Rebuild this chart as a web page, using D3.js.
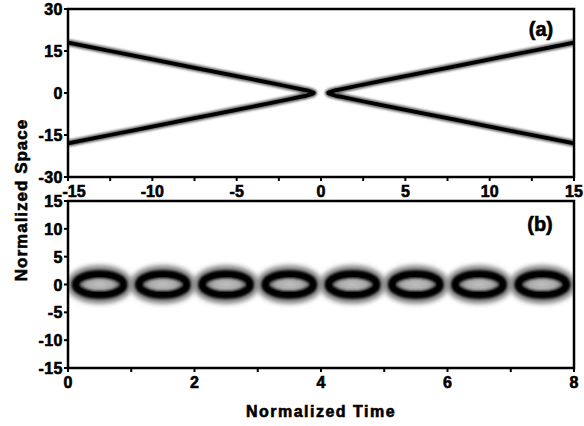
<!DOCTYPE html>
<html>
<head>
<meta charset="utf-8">
<script src="https://cdn.jsdelivr.net/npm/d3@7"></script>
<style>
  html, body { margin: 0; padding: 0; background: #fff; }
  svg { display: block; }
  text { font-family: "Liberation Sans", Arial, sans-serif; font-weight: bold; fill: #000;
         stroke: #000; stroke-width: 0.6px; }
</style>
</head>
<body>
<svg id="chart" width="584" height="426"></svg>
<script>
// Panel (a): beam trajectories, upper-right branch (time, space); the other
// three branches are its mirror images about the axes.
const branchTime  = [0.42, 0.5, 0.65, 0.9, 1.3, 2.1, 3.3, 5.0, 7.5, 10.0, 12.5, 15.0];
const branchSpace = [0, 0.3, 0.6, 1.0, 1.5, 2.5, 4.0, 6.0, 9.0, 12.0, 15.0, 18.0];

// Panel (b): breathing pulses, centre time and half sizes (time, space)
const pulseCentres = [0.5, 1.5, 2.5, 3.5, 4.5, 5.5, 6.5, 7.5];
const pulseHalfWidth = 0.375;
const pulseHalfHeight = 1.8;

// Tick values
const ticksAX = [-15, -10, -5, 0, 5, 10, 15];
const ticksAXMinor = [-12.5, -7.5, -2.5, 2.5, 7.5, 12.5];
const ticksAY = [30, 15, 0, -15, -30];
const ticksBX = [0, 2, 4, 6, 8];
const ticksBXMinor = [1, 3, 5, 7];
const ticksBY = [15, 10, 5, 0, -5, -10, -15];

const svg = d3.select("#chart");
const left = 68, right = 574;
const aTop = 9, aBottom = 177, bTop = 201, bBottom = 368;

const xa = d3.scaleLinear().domain([-15, 15]).range([left, right]);
const ya = d3.scaleLinear().domain([-30, 30]).range([aBottom, aTop]);
const xb = d3.scaleLinear().domain([0, 8]).range([left, right]);
const yb = d3.scaleLinear().domain([-15, 15]).range([bBottom, bTop]);

const defs = svg.append("defs");
defs.append("clipPath").attr("id", "clipA").append("rect")
  .attr("x", left).attr("y", aTop).attr("width", right - left).attr("height", aBottom - aTop);
defs.append("clipPath").attr("id", "clipB").append("rect")
  .attr("x", left).attr("y", bTop).attr("width", right - left).attr("height", bBottom - bTop);

function blur(id, sd) {
  defs.append("filter").attr("id", id)
    .attr("x", "-30%").attr("y", "-80%").attr("width", "160%").attr("height", "260%")
    .append("feGaussianBlur").attr("stdDeviation", sd);
}
blur("haloA", 1.3);
blur("coreA", 0.45);
blur("haloB", 2.6);
blur("coreB", 1.0);

const grad = defs.append("radialGradient").attr("id", "pulseFill");
grad.append("stop").attr("offset", "0%").attr("stop-color", "#c0c0c0");
grad.append("stop").attr("offset", "55%").attr("stop-color", "#ababab");
grad.append("stop").attr("offset", "80%").attr("stop-color", "#7a7a7a");
grad.append("stop").attr("offset", "100%").attr("stop-color", "#222");

// ---------- Panel (a) ----------
const gA = svg.append("g").attr("clip-path", "url(#clipA)");
const upper = branchTime.map((t, i) => [t, branchSpace[i]]);
const rightBranch = upper.slice(1).reverse().map(([t, s]) => [t, -s]).concat(upper);
const leftBranch = rightBranch.map(([t, s]) => [-t, s]);
const line = d3.line().x(d => xa(d[0])).y(d => ya(d[1])).curve(d3.curveCatmullRom.alpha(0.5));

[rightBranch, leftBranch].forEach(br => {
  gA.append("path").attr("d", line(br)).attr("fill", "none")
    .attr("stroke", "#666").attr("stroke-width", 7).attr("filter", "url(#haloA)");
  gA.append("path").attr("d", line(br)).attr("fill", "none")
    .attr("stroke", "#000").attr("stroke-width", 3.8).attr("filter", "url(#coreA)");
});

// ---------- Panel (b) ----------
const gB = svg.append("g").attr("clip-path", "url(#clipB)");
const rx = xb(pulseHalfWidth) - xb(0);
const ry = yb(0) - yb(pulseHalfHeight);
pulseCentres.forEach(c => {
  const g = gB.append("g");
  g.append("ellipse").attr("cx", xb(c)).attr("cy", yb(0)).attr("rx", rx + 1).attr("ry", ry + 1)
    .attr("fill", "none").attr("stroke", "#7a7a7a").attr("stroke-width", 16).attr("filter", "url(#haloB)");
  g.append("ellipse").attr("cx", xb(c)).attr("cy", yb(0)).attr("rx", rx).attr("ry", ry)
    .attr("fill", "url(#pulseFill)").attr("stroke", "#000").attr("stroke-width", 8.5)
    .attr("filter", "url(#coreB)");
});

// ---------- Frames, ticks, labels ----------
function frame(y0, y1) {
  svg.append("rect").attr("x", left).attr("y", y0).attr("width", right - left).attr("height", y1 - y0)
    .attr("fill", "none").attr("stroke", "#000").attr("stroke-width", 2.5);
}
frame(aTop, aBottom);
frame(bTop, bBottom);

function xTicks(scale, y, major, minor, firstShift) {
  const g = svg.append("g");
  major.concat(minor).forEach(v => {
    g.append("line").attr("x1", scale(v)).attr("x2", scale(v)).attr("y1", y).attr("y2", y + 4)
      .attr("stroke", "#000").attr("stroke-width", 2);
  });
  major.forEach((v, i) => {
    g.append("text").attr("x", scale(v) + (i === 0 ? firstShift : 0)).attr("y", y + 20)
      .attr("text-anchor", "middle").attr("font-size", 16).text(v);
  });
}
function yTicks(scale, x, major) {
  const g = svg.append("g");
  major.forEach(v => {
    g.append("line").attr("x1", x - 4).attr("x2", x).attr("y1", scale(v)).attr("y2", scale(v))
      .attr("stroke", "#000").attr("stroke-width", 2);
    g.append("text").attr("x", x - 5).attr("y", scale(v) + 6).attr("text-anchor", "end")
      .attr("font-size", 16).attr("letter-spacing", 0.5).text(v);
  });
}
xTicks(xa, aBottom, ticksAX, ticksAXMinor, 6);
xTicks(xb, bBottom, ticksBX, ticksBXMinor, 0);
yTicks(ya, left, ticksAY);
yTicks(yb, left, ticksBY);

svg.append("text").attr("x", 541).attr("y", 36).attr("text-anchor", "middle")
  .attr("font-size", 20).text("(a)");
svg.append("text").attr("x", 540).attr("y", 231).attr("text-anchor", "middle")
  .attr("font-size", 20).text("(b)");

svg.append("text").attr("x", 321).attr("y", 417).attr("text-anchor", "middle")
  .attr("font-size", 16).attr("letter-spacing", 1.5).text("Normalized Time");
svg.append("text").attr("transform", "translate(27,200) rotate(-90)").attr("text-anchor", "middle")
  .attr("font-size", 17).attr("letter-spacing", 1).text("Normalized Space");
</script>
</body>
</html>
